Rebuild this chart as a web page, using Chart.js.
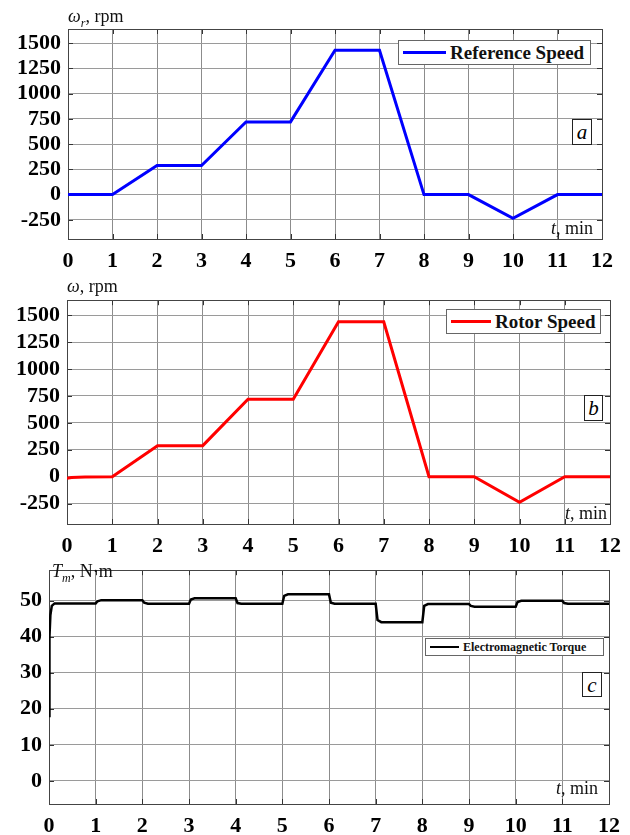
<!DOCTYPE html>
<html>
<head>
<meta charset="utf-8">
<script src="https://cdn.jsdelivr.net/npm/chart.js@4.4.1/dist/chart.umd.min.js"></script>
<style>
  body { margin: 0; background: #fff; width: 630px; height: 835px; position: relative; overflow: hidden; font-family: "Liberation Serif", "Times New Roman", serif; }
  canvas { position: absolute; left: 0; }
  .lbl { position: absolute; font-size: 18px; line-height: 20px; white-space: nowrap; color: #111; }
  .leg { position: absolute; background: #fff; border: 1px solid #666; box-sizing: border-box; display: flex; align-items: center; font-weight: bold; white-space: nowrap; color: #111; }
  .leg .ln { display: inline-block; height: 0; }
  .tag { position: absolute; border: 1px solid #222; box-sizing: border-box; font-style: italic; font-size: 21px; line-height: 24px; text-align: center; background: #fff; }
</style>
</head>
<body>
<canvas id="chartA" width="630" height="280" style="top:0px"></canvas>
<canvas id="chartC" width="630" height="285" style="top:550px"></canvas>
<canvas id="chartB" width="630" height="285" style="top:280px"></canvas>

<div class="lbl" style="left:68px;top:6px"><i>ω<sub style="font-size:12px">r</sub></i>, rpm</div>
<div class="lbl" style="right:37px;top:218px"><i>t</i>, min</div>
<div class="tag" style="left:572px;top:119px;width:20px;height:26px">a</div>

<div class="lbl" style="left:67px;top:276px"><i>ω</i>, rpm</div>
<div class="lbl" style="right:23px;top:503px"><i>t</i>, min</div>
<div class="tag" style="left:584px;top:395px;width:19px;height:26px">b</div>

<div class="lbl" style="left:52px;top:561px"><i>T<sub style="font-size:12px">m</sub></i>, N·m</div>
<div class="lbl" style="right:32px;top:778px"><i>t</i>, min</div>
<div class="tag" style="left:582px;top:672px;width:20px;height:25px">c</div>

<div id="legA" class="leg" style="left:398px;top:40px;width:193px;height:25px;font-size:19px"></div>
<div id="legB" class="leg" style="left:446px;top:309px;width:155px;height:25px;font-size:19px"></div>
<div id="legC" class="leg" style="left:425px;top:638px;width:179px;height:18px;font-size:12px"></div>

<script>
// time axis (min)
const timeTicks = [0, 1, 2, 3, 4, 5, 6, 7, 8, 9, 10, 11, 12];

// (a) reference speed, rpm
const refTime  = [0, 1, 2, 3, 4, 5, 6, 7, 8, 9, 10, 11, 12];
const refSpeed = [0, 0, 288, 288, 720, 720, 1430, 1430, 0, 0, -235, 0, 0];

// (b) rotor speed, rpm
const rotorTime  = [0, 0.1, 0.4, 1, 2, 3, 4, 5, 6, 7, 8, 9, 10, 11, 12];
const rotorSpeed = [-15, -8, -3, 0, 288, 288, 720, 720, 1440, 1440, 0, 0, -238, 0, 0];

// (c) electromagnetic torque, N·m
const torqueTime = [0, 0.01, 0.03, 0.06, 0.12, 1, 1.04, 1.12, 2, 2.04, 2.12, 3, 3.04, 3.12,
  4, 4.04, 4.12, 5, 5.04, 5.12, 6, 6.04, 6.12, 7, 7.04, 7.12, 8, 8.04, 8.12,
  9, 9.04, 9.12, 10, 10.04, 10.12, 11, 11.04, 11.12, 12];
const torque = [18, 40, 46, 48.5, 49.2, 49.2, 49.8, 50.1, 50.1, 49.4, 49.1, 49.1, 50.3, 50.6,
  50.6, 49.3, 49.1, 49.1, 51.3, 51.7, 51.7, 49.4, 49.1, 49.1, 44.6, 44.0, 44.0, 48.5, 49.0,
  49.0, 48.5, 48.3, 48.3, 49.6, 49.9, 49.9, 49.3, 49.1, 49.1];

const speedTicks  = [-250, 0, 250, 500, 750, 1000, 1250, 1500];
const torqueTicks = [0, 10, 20, 30, 40, 50];

const FONT = "'Liberation Serif', serif";

// MATLAB-like box with inward tick marks
const framePlugin = {
  id: 'frame',
  beforeDatasetsDraw(chart) {
    const { ctx, chartArea: a, scales } = chart;
    ctx.save();
    ctx.strokeStyle = '#333';
    ctx.lineWidth = 1;
    ctx.beginPath();
    scales.x.ticks.forEach(t => {
      const px = Math.round(scales.x.getPixelForValue(t.value)) + 0.5;
      ctx.moveTo(px, a.top); ctx.lineTo(px, a.top + 5);
      ctx.moveTo(px, a.bottom); ctx.lineTo(px, a.bottom - 5);
    });
    scales.y.ticks.forEach(t => {
      const py = Math.round(scales.y.getPixelForValue(t.value)) + 0.5;
      ctx.moveTo(a.left, py); ctx.lineTo(a.left + 5, py);
      ctx.moveTo(a.right, py); ctx.lineTo(a.right - 5, py);
    });
    ctx.stroke();
    ctx.strokeStyle = '#444';
    ctx.strokeRect(Math.round(a.left) + 0.5, Math.round(a.top) + 0.5,
      Math.round(a.right - a.left), Math.round(a.bottom - a.top));
    ctx.restore();
  }
};

function buildChart(canvasId, legendId, times, values, label, color, lineWidth, yCfg, area, height) {
  const canvas = document.getElementById(canvasId);
  const tickFont = { family: FONT, size: 22, weight: 'bold' };
  const chart = new Chart(canvas.getContext('2d'), {
    type: 'line',
    data: {
      datasets: [{
        label: label,
        data: times.map((t, i) => ({ x: t, y: values[i] })),
        borderColor: color,
        borderWidth: lineWidth,
        pointRadius: 0,
        tension: 0,
        fill: false
      }]
    },
    options: {
      responsive: false,
      animation: false,
      devicePixelRatio: 1,
      layout: { padding: { top: area.top, right: 630 - area.right, left: 0, bottom: 0 } },
      plugins: { legend: { display: false }, tooltip: { enabled: false } },
      scales: {
        x: {
          type: 'linear',
          min: 0,
          max: 12,
          afterBuildTicks: s => { s.ticks = timeTicks.map(v => ({ value: v })); },
          afterFit: s => { s.height = height - area.bottom; },
          grid: { color: '#8c8c8c', lineWidth: 1, drawTicks: false },
          border: { display: false },
          ticks: { padding: 9, color: '#000', font: tickFont, maxRotation: 0, callback: v => String(v) }
        },
        y: {
          min: yCfg.min,
          max: yCfg.max,
          afterBuildTicks: s => { s.ticks = yCfg.ticks.map(v => ({ value: v })); },
          afterFit: s => { s.width = area.left; },
          grid: { color: '#9a9a9a', lineWidth: 1, drawTicks: false },
          border: { display: false },
          ticks: { padding: 7, color: '#000', font: tickFont, callback: v => String(v) }
        }
      }
    },
    plugins: [framePlugin]
  });

  // legend box inside the axes, built from the dataset
  const leg = document.getElementById(legendId);
  const ds = chart.data.datasets[0];
  const sampleW = legendId === 'legC' ? 29 : (legendId === 'legB' ? 40 : 43);
  leg.innerHTML = `<span class="ln" style="width:${sampleW}px;margin:0 4px 0 4px;border-top:${ds.borderWidth}px solid ${ds.borderColor}"></span><span>${ds.label}</span>`;
  return chart;
}

function drawAll() {
  buildChart('chartA', 'legA', refTime, refSpeed, 'Reference Speed', '#0000ff', 3,
    { min: -440, max: 1640, ticks: speedTicks },
    { left: 68, right: 602, top: 29, bottom: 239 }, 280);

  buildChart('chartB', 'legB', rotorTime, rotorSpeed, 'Rotor Speed', '#ff0000', 3,
    { min: -440, max: 1640, ticks: speedTicks },
    { left: 67, right: 612, top: 19, bottom: 244 }, 285);

  buildChart('chartC', 'legC', torqueTime, torque, 'Electromagnetic Torque', '#000000', 2.5,
    { min: -6.4, max: 58.4, ticks: torqueTicks },
    { left: 49, right: 609, top: 11, bottom: 254 }, 285);
}

document.fonts.load("bold 22px 'Liberation Serif'").then(drawAll, drawAll);
</script>
</body>
</html>
